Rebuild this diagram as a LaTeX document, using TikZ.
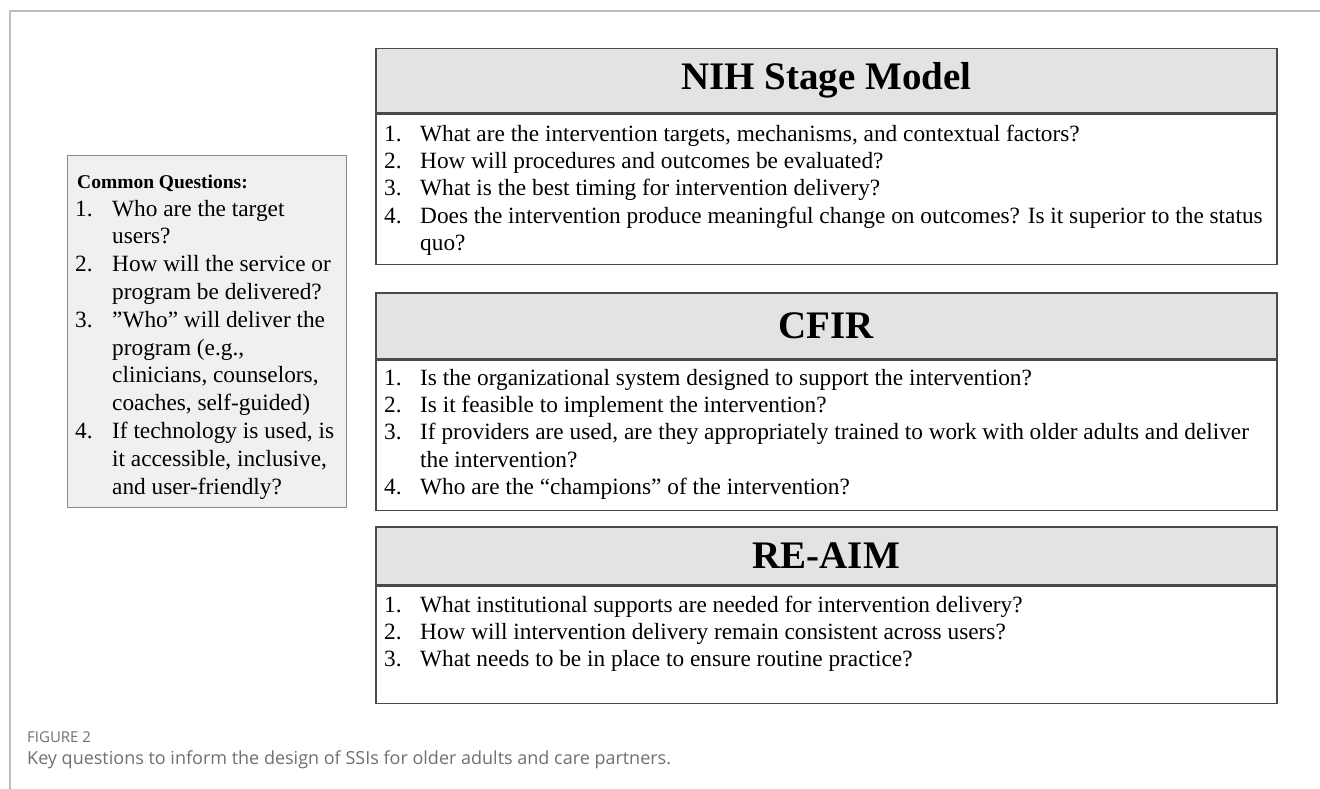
\documentclass[tikz,border=0pt]{standalone}
\usepackage{fontspec}
\setmainfont{Liberation Serif}
\newfontfamily\capfont{Open Sans}
\usepackage{array}
\definecolor{framegray}{HTML}{BDBDBD}
\definecolor{hdrfill}{HTML}{E4E3E4}
\definecolor{boxline}{HTML}{4A4A4A}
\definecolor{leftfill}{HTML}{F0F0F0}
\definecolor{leftline}{HTML}{8A8A8A}
\definecolor{capgray}{HTML}{707070}
\newcommand\qsize{\fontsize{23.3}{27.3}\selectfont}
\newcommand\lsize{\fontsize{23.3}{27.8}\selectfont}
\tikzset{
  hdrbox/.style={draw=boxline, line width=1.5pt, fill=hdrfill, anchor=north west,
    minimum width=901, minimum height=64, inner sep=0pt,
    font=\fontsize{39}{42}\selectfont\bfseries},
  bodybox/.style={draw=boxline, line width=1.5pt, fill=white, anchor=north west,
    minimum width=901, inner sep=0pt},
  qlist/.style={anchor=north west, inner sep=0pt, align=left},
}
\begin{document}
\begin{tikzpicture}[x=1pt,y=-1pt]
\useasboundingbox (0,0) rectangle (1320,789);
\fill[white] (0,0) rectangle (1320,789);
% page frame
\draw[framegray, line width=1.5pt] (10,789) -- (10,11) -- (1320,11);

% left box: common questions
\node[draw=leftline, line width=1.1pt, fill=leftfill, anchor=north west,
  minimum width=279, minimum height=352, inner sep=0pt] (common) at (67,155) {};
\node[anchor=west, inner sep=0pt, font=\fontsize{19.5}{24}\selectfont\bfseries]
  (commonT) at (77,183) {Common Questions:};
\node[qlist] (commonL) at (75,196.5) {\lsize
\begin{tabular}{@{}p{37pt}@{}l@{}}
1. & Who are the target\\
   & users?\\
2. & How will the service or\\
   & program be delivered?\\
3. & ''Who'' will deliver the\\
   & program (e.g.,\\
   & clinicians, counselors,\\
   & coaches, self-guided)\\
4. & If technology is used, is\\
   & it accessible, inclusive,\\
   & and user-friendly?
\end{tabular}};

% NIH Stage Model
\node[hdrbox] (nihH) at (375,48) {NIH Stage Model};
\node[bodybox, minimum height=150] (nihB) at (nihH.south west) {};
\node[qlist] (nihL) at (384,122) {\qsize
\begin{tabular}{@{}p{36pt}@{}l@{}}
1. & What are the intervention targets, mechanisms, and contextual factors?\\
2. & How will procedures and outcomes be evaluated?\\
3. & What is the best timing for intervention delivery?\\
4. & Does the intervention produce meaningful change on outcomes? Is it superior to the status\\
   & quo?
\end{tabular}};

% CFIR
\node[hdrbox, minimum height=66] (cfirH) at (375,292) {CFIR};
\node[bodybox, minimum height=150] (cfirB) at (cfirH.south west) {};
\node[qlist] (cfirL) at (384,366) {\qsize
\begin{tabular}{@{}p{36pt}@{}l@{}}
1. & Is the organizational system designed to support the intervention?\\
2. & Is it feasible to implement the intervention?\\
3. & If providers are used, are they appropriately trained to work with older adults and deliver\\
   & the intervention?\\
4. & Who are the ``champions'' of the intervention?
\end{tabular}};

% RE-AIM
\node[hdrbox, minimum height=58] (reaimH) at (375,526) {RE-AIM};
\node[bodybox, minimum height=117] (reaimB) at (reaimH.south west) {};
\node[qlist] (reaimL) at (384,593) {\qsize
\begin{tabular}{@{}p{36pt}@{}l@{}}
1. & What institutional supports are needed for intervention delivery?\\
2. & How will intervention delivery remain consistent across users?\\
3. & What needs to be in place to ensure routine practice?
\end{tabular}};

% caption
\node[anchor=west, inner sep=0pt, text=capgray, font=\capfont\fontsize{15}{18}\selectfont]
  (capA) at (27,737) {FIGURE 2};
\node[anchor=west, inner sep=0pt, text=capgray, font=\capfont\fontsize{18}{22}\selectfont]
  (capB) at (27,760) {Key questions to inform the design of SSIs for older adults and care partners.};
\end{tikzpicture}
\end{document}
